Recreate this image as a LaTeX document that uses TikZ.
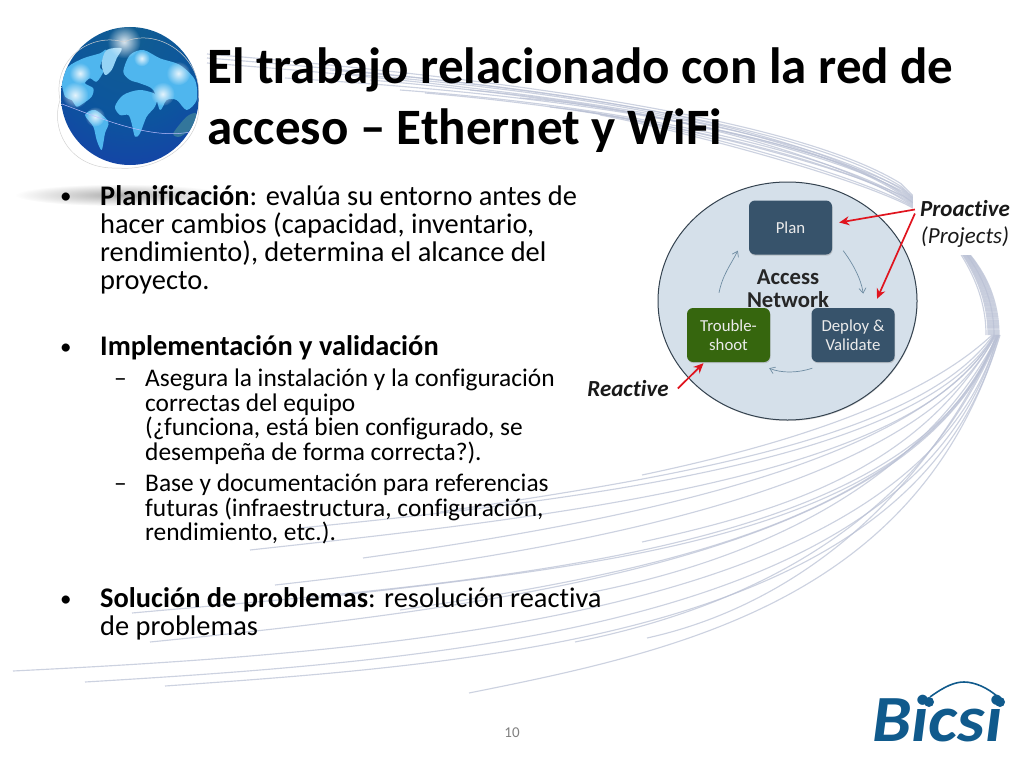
\documentclass[tikz,border=0pt]{standalone}
\usepackage{fontspec}
\setmainfont[Ligatures=NoCommon]{Carlito}
\usetikzlibrary{arrows.meta,calc,shadows,shapes.geometric,fadings}
\definecolor{swoosh}{HTML}{B9C0D4}
\definecolor{discfill}{HTML}{D5E0EA}
\definecolor{discline}{HTML}{34424F}
\definecolor{slate}{HTML}{37536B}
\definecolor{leaf}{HTML}{36660E}
\definecolor{flow}{HTML}{6F8DA3}
\definecolor{alert}{HTML}{E0141E}
\definecolor{logo}{HTML}{105A8C}
\definecolor{land}{HTML}{4FB6EE}
\pgfdeclareradialshading{globeshade}{\pgfpoint{0bp}{24bp}}{%
  color(0bp)=(rgb:red,0.10;green,0.55;blue,0.85);
  color(25bp)=(rgb:red,0.05;green,0.35;blue,0.65);
  color(45bp)=(rgb:red,0.07;green,0.17;blue,0.48);
  color(60bp)=(rgb:red,0.10;green,0.12;blue,0.42);
  color(80bp)=(rgb:red,0.10;green,0.12;blue,0.42)}
\tikzfading[name=glowfade,inner color=transparent!15,outer color=transparent!100]
\tikzset{
  swooshline/.style={draw=swoosh,line width=1.15pt,opacity=.72},
  stage/.style={rounded corners=6pt,minimum width=83pt,minimum height=54pt,inner sep=0pt,align=center,text=white!92!black,
    font=\fontsize{16.8}{19}\selectfont,drop shadow={shadow xshift=0.6pt,shadow yshift=-1.2pt,opacity=0.35}},
  flowarc/.style={draw=flow,line width=0.7pt,-{Straight Barb[length=5pt,width=7pt]}},
  callout/.style={draw=alert,line width=1.7pt,-{Stealth[length=10pt,width=9pt]}},
  body/.style={anchor=north west,inner sep=0pt,align=left,font=\fontsize{28.4}{27.9}\selectfont},
  sub/.style={anchor=north west,inner sep=0pt,align=left,font=\fontsize{25.4}{24.8}\selectfont},
  bigmark/.style={anchor=base west,inner sep=0pt,font=\fontsize{23}{28}\selectfont},
  smallmark/.style={anchor=base west,inner sep=0pt,font=\fontsize{25.4}{25}\selectfont},
  tag/.style={inner sep=0pt,align=center,font=\fontsize{23}{27}\selectfont\itshape,text=black!90},
  titletext/.style={anchor=north west,inner sep=0pt,align=left,font=\fontsize{51}{61}\selectfont\bfseries},
  glow/.style={fill=white,path fading=glowfade},
}
\begin{document}
\begin{tikzpicture}[x=1pt,y=-1pt]
\useasboundingbox (0,0) rectangle (1024,768);
% ---------- swoosh, lower fan: left end x/y, left slope, y at the curve's middle, end x
\foreach \lx/\ly/\m/\ym/\ex in {642/475/.21/419/992,440/512/.15/450/993,300/528/.10/468/994,250/550/.11/484/994,363/558/.14/482/995,275/585/.11/506/995,642/542/.22/477/996,132/613/.09/545/996,300/600/.12/533/997,400/610/.15/530/997,150/642/.10/559/997,593/592/.20/508/998,13/671/.05/600/998,85/682/.06/609/998,165/686/.07/613/999,575/642/.20/547/999,647/638/.22/539/999,469/693/.20/597/1000}{
  \pgfmathsetmacro{\cax}{\lx+0.4*(1000-\lx)}
  \pgfmathsetmacro{\cay}{\ly-\m*0.4*(1000-\lx)}
  \pgfmathsetmacro{\cby}{(8*\ym-\ly-335-3*\cay)/3}
  \draw[swooshline] (\lx,\ly) .. controls (\cax,\cay) and (920,\cby) .. (\ex,335);
}
% ---------- swoosh, right bend and upper fan
\foreach \ux/\uy/\e/\d in {207/54/-8/-6,207/58/-6/-4,207/63/-3/-2,285/78/0/0,330/70/-4/1,350/74/-2/2,370/80/3/-3,400/90/7/3,425/93/10/4,470/90/5/-1,520/98/6/5,550/107/14/2,575/110/17/6,600/115/20/7}{
  \draw[swooshline] ({992+\d},335) .. controls ({992+\d},285) and ({965+\d},240) .. ({903+\d*0.4},{193+\d*1.6})
     .. controls (830,{148+\e}) and (650,{100+\e*1.2}) .. (\ux,\uy);
}
% ---------- white backing of the labels
\fill[white] (913,165) rectangle (1024,255);
% ---------- title
\node[titletext] (title) at (207,48) {El trabajo relacionado con la red de\\acceso – Ethernet y WiFi};
% ---------- globe
\begin{scope}
  \path[clip] (130,96) circle (69);
  \shade[shading=globeshade] (130,96) circle (69);
  \begin{scope}[scale=0.3333]
    \fill[land] plot[smooth cycle,tension=.5] coordinates {(185,240) (205,200) (250,175) (300,160) (318,150) (300,200) (310,215) (290,245) (270,235) (255,250) (280,265) (275,290) (250,310) (230,320) (215,300) (195,290)};
    \fill[land!60!white] plot[smooth cycle,tension=.5] coordinates {(320,150) (365,145) (350,175) (335,210) (315,225) (305,190)};
    \fill[land] plot[smooth cycle,tension=.5] coordinates {(255,345) (285,330) (325,365) (315,400) (305,450) (290,420) (280,380)};
    \fill[land] plot[smooth cycle,tension=.5] coordinates {(390,165) (430,150) (480,175) (540,195) (585,240) (590,300) (560,330) (530,300) (500,300) (480,330) (460,270) (420,250) (390,240) (370,215)};
    \fill[land] plot[smooth cycle,tension=.5] coordinates {(345,320) (370,285) (420,270) (470,285) (465,320) (440,350) (420,400) (405,410) (395,370) (385,345) (360,345)};
    \fill[land!65!black] plot[smooth cycle,tension=.5] coordinates {(520,400) (560,350) (590,340) (580,380) (540,410)};
    \fill[glow] (372,125) circle (50);
    \fill[glow] (535,220) circle (36);
    \fill[glow] (488,282) circle (36);
    \fill[glow] (225,285) circle (40);
    \fill[glow] (285,350) circle (30);
    \fill[glow] (240,220) circle (32);
    \fill[glow] (425,175) circle (24);
  \end{scope}
\end{scope}
\draw[white!82!black,line width=.5pt] (60,100) .. controls (52,60) and (90,32) .. (124,42) .. controls (160,26) and (205,60) .. (198,100) .. controls (205,140) and (160,172) .. (118,168) .. controls (70,170) and (50,130) .. (60,100);
\draw[white!75!blue,line width=.5pt] (62,104) .. controls (100,118) and (150,140) .. (190,132);
% ---------- soft shadow streak under the first bullet
\fill[black!38,path fading=glowfade] (120,195) ellipse (105 and 11);
% ---------- bullets
\node[bigmark] (m1) at (60,203) {•};
\node[body] (p1) at (100,185.5) {\textbf{Planificación}: evalúa su entorno antes de\\hacer cambios (capacidad, inventario,\\rendimiento), determina el alcance del\\proyecto.};
\node[bigmark] (m2) at (60,354) {•};
\node[body] (p2) at (100,335.5) {\textbf{Implementación y validación}};
\node[smallmark] (m3) at (114,386) {–};
\node[sub] (p3) at (145,368.5) {Asegura la instalación y la configuración\\correctas del equipo\\(¿funciona, está bien configurado, se\\desempeña de forma correcta?).};
\node[smallmark] (m4) at (114,491) {–};
\node[sub] (p4) at (145,473.5) {Base y documentación para referencias\\futuras (infraestructura, configuración,\\rendimiento, etc.).};
\node[bigmark] (m5) at (60,606) {•};
\node[body] (p5) at (100,587.5) {\textbf{Solución de problemas}: resolución reactiva\\de problemas};
\node[inner sep=0pt,text=black!50,font=\fontsize{15}{18}\selectfont] (pg) at (512,733) {10};
% ---------- cycle diagram
\node[ellipse,draw=discline,fill=discfill,line width=1pt,minimum width=259pt,minimum height=238pt,inner sep=0pt,
  drop shadow={shadow xshift=0.5pt,shadow yshift=-1pt,opacity=0.3}] (disc) at (787.5,301) {};
\node[stage,fill=slate] (plan) at (790.5,227.5) {Plan};
\node[inner sep=0pt,align=center,text=black!85,font=\fontsize{22.7}{23}\selectfont\bfseries] (hub) at (788,288.5) {Access\\Network};
\node[stage,fill=leaf] (trouble) at (728.5,335) {Trouble-\\shoot};
\node[stage,fill=slate] (deploy) at (853,335) {Deploy \&\\Validate};
\node[tag] (pro) at (965,223.5) {\textbf{Proactive}\\(Projects)};
\node[tag] (rea) at (628,388.5) {\textbf{Reactive}};
\draw[flowarc] ([shift={(-9.5,-15)}]trouble.north) .. controls ([shift={(-6,-33)}]trouble.north) and ([shift={(-18,10)}]plan.south west) .. ([shift={(-11,-4)}]plan.south west);
\draw[flowarc] ([shift={(11,-4)}]plan.south east) .. controls ([shift={(20,8)}]plan.south east) and ([shift={(29,24)}]plan.south east) .. ([shift={(31,39)}]plan.south east);
\draw[flowarc] ([shift={(1,6)}]deploy.south west) .. controls ([shift={(-14,11)}]deploy.south west) and ([shift={(-30,11)}]deploy.south west) .. ([shift={(-1,6)}]trouble.south east);
\draw[callout] ([shift={(-5,-14)}]pro.west) -- ([shift={(7,-5)}]plan.east);
\draw[callout] ([shift={(-5,-10)}]pro.west) -- ([shift={(24,-9)}]deploy.north);
\draw[callout] ([xshift=9pt]rea.east) -- ([shift={(-25,1)}]trouble.south);
% ---------- logo
\node[anchor=base west,inner sep=0pt,text=logo,xscale=1.06,font=\fontsize{66}{66}\selectfont\bfseries\itshape] (brand) at (872,741) {Bicsi};
\fill[logo] (929,702) circle (5);
\fill[logo] (1000,702) circle (5);
\draw[logo,line width=1.6pt] (930,697) .. controls (945,686) and (955,682) .. (964,682) .. controls (975,682) and (988,688) .. (998,697);
\end{tikzpicture}
\end{document}
